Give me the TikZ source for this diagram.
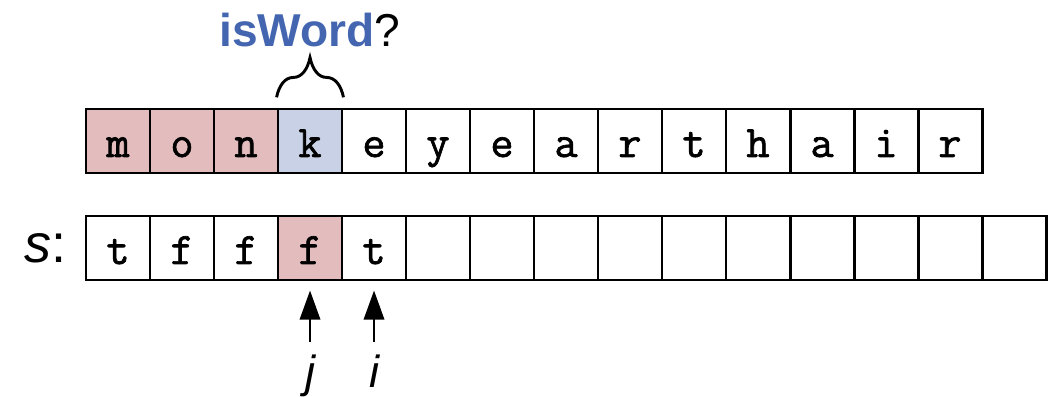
\documentclass[tikz,border=0pt]{standalone}
\usepackage{fontspec}
\setmainfont{Liberation Sans}
\setmonofont{Latin Modern Mono}[FakeBold=1.5]
\usepackage{tikz}
\usetikzlibrary{positioning,arrows.meta,decorations.pathreplacing}
\definecolor{used}{RGB}{227,188,189}
\definecolor{cur}{RGB}{200,209,230}
\definecolor{wordblue}{RGB}{68,102,176}

\begin{document}
\begin{tikzpicture}[node distance=0.28cm,
    cell/.style={rectangle, draw, line width=1.3pt, minimum size=1cm, inner sep=0pt, text height=14.2pt, text depth=0pt, font=\ttfamily\fontsize{20}{20}\selectfont},
    lbl/.style={inner sep=5.4pt, font=\itshape\fontsize{20}{21}\selectfont},
    ptr/.style={-{Triangle[length=13pt,width=9pt]}, line width=1.3pt, shorten >=4pt}]
  \useasboundingbox (0,0) rectangle (16.453,-6.203);

  % the string
  \foreach \ch/\col [count=\n] in {m/used,o/used,n/used,k/cur,e/white,y/white,e/white,a/white,r/white,t/white,h/white,a/white,i/white,r/white}
    \node (t\n) [cell, fill=\col] at ({0.844+\n},-2.203) {\ch};

  % the table s
  \foreach \ch/\col [count=\n] in {t/white,f/white,f/white,f/used,t/white}
    \node (b\n) [cell, fill=\col] at ({0.844+\n},-3.875) {\ch};
  \foreach \n in {6,...,15}
    \node (b\n) [cell] at ({0.844+\n},-3.875) {};
  \node (s) [left=of b1, inner sep=0pt, font=\fontsize{24}{26}\selectfont] {\textit{s}:};

  % the brace and the question
  \draw[decorate, decoration={brace, amplitude=0.62cm, raise=0.16cm}, line width=1.3pt] (t4.north west) -- (t4.north east);
  \node (q) [anchor=base, font=\fontsize{20.5}{24}\selectfont] at (4.844,-0.734) {\textcolor{wordblue}{\textbf{isWord}}?};

  % pointers
  \node (jl) [lbl, anchor=base] at (4.844,-6.047) {j};
  \node (il) [lbl, anchor=base] at (5.844,-6.047) {i};
  \draw[ptr] (jl) -- (b4);
  \draw[ptr] (il) -- (b5);
\end{tikzpicture}
\end{document}
